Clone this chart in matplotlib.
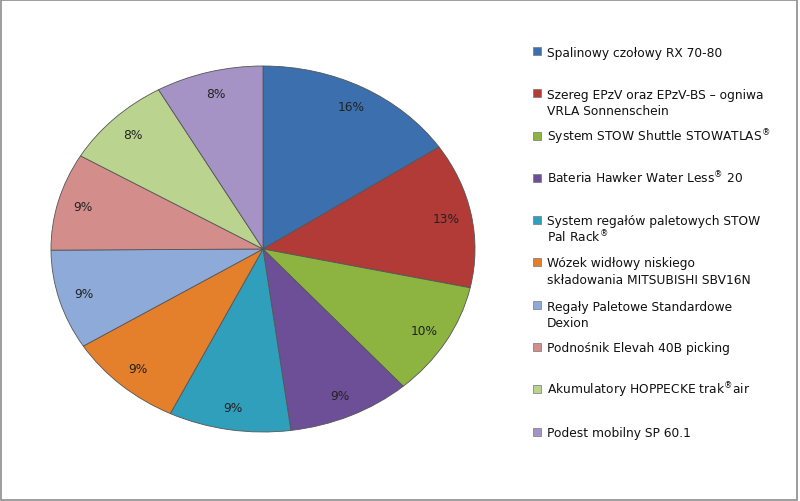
import matplotlib
matplotlib.use("Agg")
import matplotlib.pyplot as plt
from matplotlib.patches import Rectangle

# ---------------------------------------------------------------------------
# Data
# ---------------------------------------------------------------------------
labels = [
    "Spalinowy czołowy RX 70-80",
    "Szereg EPzV oraz EPzV-BS – ogniwa\nVRLA Sonnenschein",
    "System STOW Shuttle STOWATLAS$^{®}$",
    "Bateria Hawker Water Less$^{®}$ 20",
    "System regałów paletowych STOW\nPal Rack$^{®}$",
    "Wózek widłowy niskiego\nskładowania MITSUBISHI SBV16N",
    "Regały Paletowe Standardowe\nDexion",
    "Podnośnik Elevah 40B picking",
    "Akumulatory HOPPECKE trak$^{®}$air",
    "Podest mobilny SP 60.1",
]
shares = [15.6, 12.8, 10.1, 9.4, 9.3, 8.9, 8.8, 8.6, 8.3, 8.2]
colors = ["#3b6fae", "#b23a37", "#8db441", "#6d4f98", "#309fbb",
          "#e47f2b", "#8eaad8", "#d38d8b", "#bad490", "#a493c4"]

# legend rows: y pixel (from top) of first text line
legend_y = [52, 94, 137, 179, 221, 263, 306, 348, 390, 433]

W, H = 800, 502
plt.rcParams["mathtext.default"] = "regular"
fig = plt.figure(figsize=(W / 100, H / 100), dpi=100)

# elliptical pie: axes box matches the ellipse bounds
cx, cy, rx, ry = 263, 250, 212, 183
ax = fig.add_axes([(cx - rx) / W, (H - cy - ry) / H, 2 * rx / W, 2 * ry / H])
wedges, _, pcts = ax.pie(
    shares, colors=colors, startangle=90, counterclock=False,
    autopct="%.0f%%", pctdistance=0.88,
    wedgeprops=dict(edgecolor="#555555", linewidth=0.6),
    textprops=dict(fontsize=8.8, color="#222222"),
)
ax.set_aspect("auto")
ax.set_xlim(-1, 1)
ax.set_ylim(-1, 1)
ax.axis("off")

# legend drawn by hand to match spacing of the original
line_gap = 16.5
for lab, col, y in zip(labels, colors, legend_y):
    fig.add_artist(Rectangle((533 / W, (H - y - 4) / H), 8 / W, 8 / H,
                             transform=fig.transFigure, facecolor=col,
                             edgecolor="#777777", linewidth=0.5))
    for i, line in enumerate(lab.split("\n")):
        fig.text(547 / W, (H - y - 4.5 - i * line_gap) / H, line,
                 fontsize=8.8, color="#111111", va="baseline", ha="left")

# outer chart frame
fig.add_artist(Rectangle((0.001, 0.001), 796 / W, 0.997, transform=fig.transFigure,
                         fill=False, edgecolor="#8c8c8c", linewidth=1.2))

fig.savefig("out.png", dpi=100)
